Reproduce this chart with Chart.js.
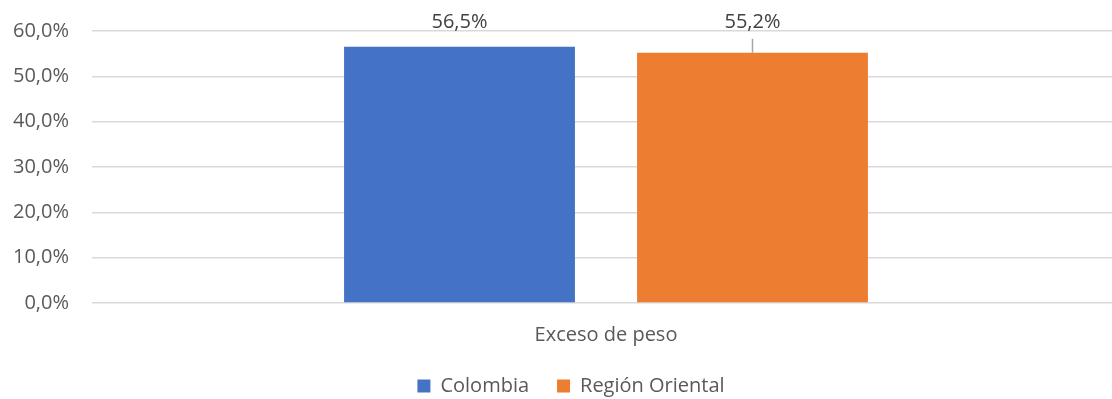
<!DOCTYPE html>
<html>
<head>
<meta charset="utf-8">
<script src="https://cdn.jsdelivr.net/npm/chart.js@4/dist/chart.umd.min.js"></script>
<style>
  body { margin: 0; background: #fff; overflow: hidden; }
  #wrap { width: 1120px; height: 399px; }
</style>
</head>
<body>
<div id="wrap"><canvas id="chartOne"></canvas></div>
<script>
// datos
let categorias = ['Exceso de peso'];
let series = ['Colombia', 'Región Oriental'];
let valores = [[56.5], [55.2]];
let colores = ['#4472C4', '#ED7D31'];

const fuente = "'Open Sans', 'Noto Sans', sans-serif";

function formato(v) {
    return v.toFixed(1).replace('.', ',') + '%';
}

// etiquetas de datos encima de las barras (con linea guia si quedan separadas)
const etiquetas = {
    id: 'etiquetas',
    afterLayout(chart) {
        // la leyenda del original esta un poco corrida a la derecha
        chart.legend.left += 6;
        chart.legend.right += 6;
    },
    afterDatasetsDraw(chart) {
        const ctx = chart.ctx;
        let topes = [];
        chart.data.datasets.forEach((ds, i) => {
            chart.getDatasetMeta(i).data.forEach(bar => topes.push(bar.y));
        });
        const yLabel = Math.min(...topes) - 25;
        ctx.save();
        ctx.font = '20px ' + fuente;
        ctx.fillStyle = '#404040';
        ctx.textAlign = 'center';
        ctx.textBaseline = 'middle';
        chart.data.datasets.forEach((ds, i) => {
            chart.getDatasetMeta(i).data.forEach((bar, j) => {
                ctx.fillText(formato(ds.data[j]), bar.x, yLabel);
                if (bar.y - yLabel > 27) {
                    ctx.strokeStyle = '#A6A6A6';
                    ctx.lineWidth = 1.5;
                    ctx.beginPath();
                    ctx.moveTo(bar.x, yLabel + 17);
                    ctx.lineTo(bar.x, bar.y);
                    ctx.stroke();
                }
            });
        });
        ctx.restore();
    }
};

var ctxOne = document.getElementById('chartOne').getContext('2d');

var chartOne = new Chart(ctxOne, {
    type: 'bar',
    data: {
        labels: categorias,
        datasets: series.map((s, i) => ({
            label: s,
            data: valores[i],
            backgroundColor: colores[i],
            categoryPercentage: 0.57,
            barPercentage: 0.788
        }))
    },
    options: {
        responsive: true,
        maintainAspectRatio: false,
        animation: false,
        layout: {
            padding: { top: 31, left: 10, right: 0, bottom: -7 }
        },
        scales: {
            x: {
                grid: { display: false, drawTicks: false },
                border: { display: false },
                ticks: {
                    color: '#595959',
                    font: { size: 20, family: fuente },
                    padding: 20
                },
                afterFit: scale => { scale.height = 45; }
            },
            y: {
                min: 0,
                max: 60,
                grid: { color: '#D9D9D9', lineWidth: 1.5, drawTicks: false },
                border: { display: false },
                ticks: {
                    stepSize: 10,
                    color: '#595959',
                    font: { size: 20, family: fuente },
                    padding: 23,
                    callback: v => formato(v)
                },
                afterFit: scale => {
                    scale.width = 82;
                    scale.paddingTop = 0;
                    scale.paddingBottom = 0;
                }
            }
        },
        plugins: {
            legend: {
                position: 'bottom',
                labels: {
                    color: '#595959',
                    font: { size: 20, family: fuente },
                    boxWidth: 13,
                    boxHeight: 13,
                    padding: 28
                }
            },
            tooltip: { enabled: false }
        }
    },
    plugins: [etiquetas]
});
</script>
</body>
</html>
